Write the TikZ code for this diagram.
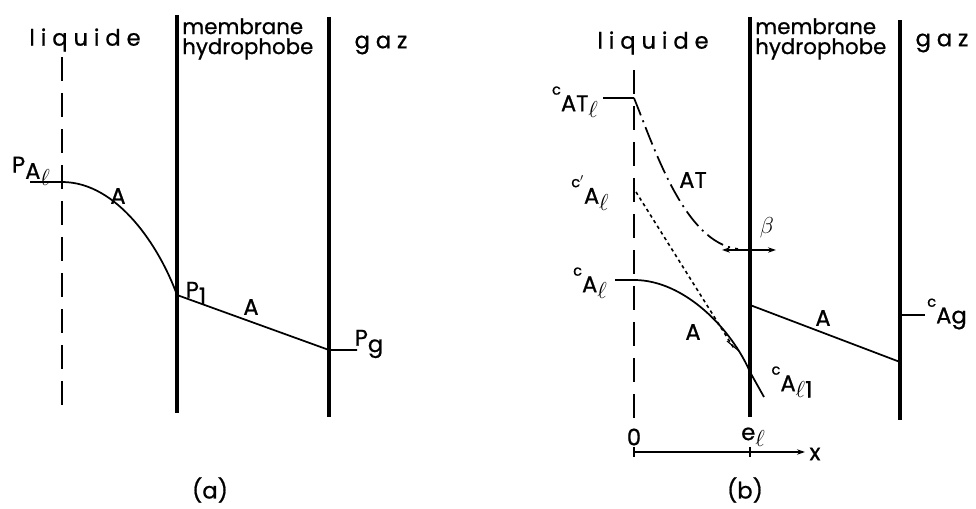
\documentclass[tikz,border=0pt]{standalone}
\usepackage{amsmath}
\usepackage{fontspec}
\setmainfont{Poppins}[FakeBold=0.8]
\usetikzlibrary{arrows.meta}
\newcommand{\dn}[1]{\raisebox{-0.28em}{#1}}
\newcommand{\up}[1]{\raisebox{0.45em}{\fontsize{11}{12}\selectfont #1}}
\newcommand{\ellsym}{$\ell$}
\tikzset{
  memb/.style={line width=2.6pt},
  curve/.style={line width=1.3pt},
  interf/.style={line width=1.3pt, dash pattern=on 18pt off 9pt},
  lbl/.style={inner sep=0pt, font=\fontsize{17}{18}\selectfont},
  region/.style={inner sep=0pt, font=\fontsize{17}{18}\selectfont\addfontfeature{LetterSpace=26}},
  mtxt/.style={inner sep=0pt, align=left, font=\fontsize{16}{15}\selectfont},
}
\begin{document}
\begin{tikzpicture}[x=0.75pt,y=-0.75pt]
\useasboundingbox (0,0) rectangle (976,509);
% ---------- panel (a)
\node[region] (liqa) at (85,40) {liquide};
\node[mtxt, anchor=north west] (mema) at (182,18) {membrane\\hydrophobe};
\node[region] (gaza) at (381,45) {gaz};
\coordinate (dAt) at (62,57); \coordinate (dAb) at (62,413);
\draw[interf] (dAt) -- (dAb);
\coordinate (m1t) at (177,15); \coordinate (m1b) at (177,413);
\coordinate (m2t) at (329,17); \coordinate (m2b) at (329,417);
\draw[memb] (m1t) -- (m1b);
\draw[memb] (m2t) -- (m2b);
\coordinate (pal0) at (30,182); \coordinate (pal) at (62,182);
\coordinate (p1) at (177,295); \coordinate (pg) at (329,350); \coordinate (pg0) at (357,350);
\draw[curve] (pal0) -- (pal) .. controls (118,182) and (160,248) .. (p1) -- (pg) -- (pg0);
\node[lbl] (lPal) at (31,171) {P\dn{A\dn{\ellsym}}};
\node[lbl] (lA1) at (118,196) {A};
\node[lbl] (lP1) at (196,293) {P\dn{1}};
\node[lbl] (lA2) at (251,307) {A};
\node[lbl] (lPg) at (369,344) {P\dn{g}};
\node[lbl] (capa) at (210,490) {(a)};
% ---------- panel (b)
\node[region] (liqb) at (653,43) {liquide};
\node[mtxt, anchor=north west] (memb) at (755,18) {membrane\\hydrophobe};
\node[region] (gazb) at (942,43) {gaz};
\coordinate (dBt) at (634,70); \coordinate (dBb) at (634,418);
\draw[interf] (dBt) -- (dBb);
\coordinate (n1t) at (750,17); \coordinate (n1b) at (750,417);
\coordinate (n2t) at (900,20); \coordinate (n2b) at (900,420);
\draw[memb] (n1t) -- (n1b);
\draw[memb] (n2t) -- (n2b);
% AT profile
\coordinate (cat0) at (603,98); \coordinate (cat) at (634,98); \coordinate (catE) at (738,249);
\draw[curve] (cat0) -- (cat);
\draw[curve, dash pattern=on 14pt off 4pt on 1.5pt off 4pt] (cat) .. controls (655,150) and (685,243) .. (catE);
\coordinate (bl) at (722,250); \coordinate (br) at (776,250);
\draw[line width=1pt, {Stealth[length=6pt,width=4pt]}-{Stealth[length=6pt,width=4pt]}] (bl) -- (br);
% dotted c'A profile
\coordinate (cpa) at (636,192); \coordinate (cpaE) at (735,350);
\draw[line width=1.2pt, dash pattern=on 2.5pt off 2.5pt] (cpa) -- (cpaE);
% A profile in liquid
\coordinate (ca0) at (615,280); \coordinate (ca) at (634,280); \coordinate (ca1) at (750,372); \coordinate (ca1e) at (764,397);
\draw[curve] (ca0) -- (ca) .. controls (685,280) and (732,330) .. (ca1) -- (ca1e);
\coordinate (xm1) at (727,341); \coordinate (xm2) at (739,351);
\draw[line width=0.9pt] (xm1) -- (xm2);
% A profile in membrane
\coordinate (cm1) at (750,305); \coordinate (cm2) at (900,362);
\draw[curve] (cm1) -- (cm2);
\coordinate (cg0) at (900,315); \coordinate (cg1) at (925,315);
\draw[curve] (cg0) -- (cg1);
% labels
\node[lbl] (lcat) at (575,102) {\up{c}\dn{AT\dn{\ellsym}}};
\node[lbl] (lAT) at (693,180) {AT};
\node[lbl] (lcpa) at (590,193) {\up{c$'$}\dn{A\dn{\ellsym}}};
\node[lbl] (lbeta) at (767,228) {\fontsize{19}{20}\selectfont$\beta$};
\node[lbl] (lca) at (590,283) {\up{c}\dn{A\dn{\ellsym}}};
\node[lbl] (lAb1) at (693,332) {A};
\node[lbl] (lAb2) at (823,318) {A};
\node[lbl] (lcag) at (947,314) {\up{c}\dn{Ag}};
\node[lbl] (lca1) at (792,382) {\up{c}\dn{A\dn{\ellsym 1}}};
% x axis
\coordinate (ax0) at (634,452); \coordinate (ax1) at (805,452);
\draw[line width=1pt, -{Stealth[length=6pt,width=4pt]}] (ax0) -- (ax1);
\coordinate (t0a) at (634,447); \coordinate (t0b) at (634,457);
\draw[line width=1pt] (t0a) -- (t0b);
\coordinate (tea) at (750,447); \coordinate (teb) at (750,457);
\draw[line width=1pt] (tea) -- (teb);
\node[lbl] (l0) at (634,437) {0};
\node[lbl] (le) at (753,437) {e\dn{\ellsym}};
\node[lbl] (lx) at (815,454) {x};
\node[lbl] (capb) at (745,490) {(b)};
\end{tikzpicture}
\end{document}
